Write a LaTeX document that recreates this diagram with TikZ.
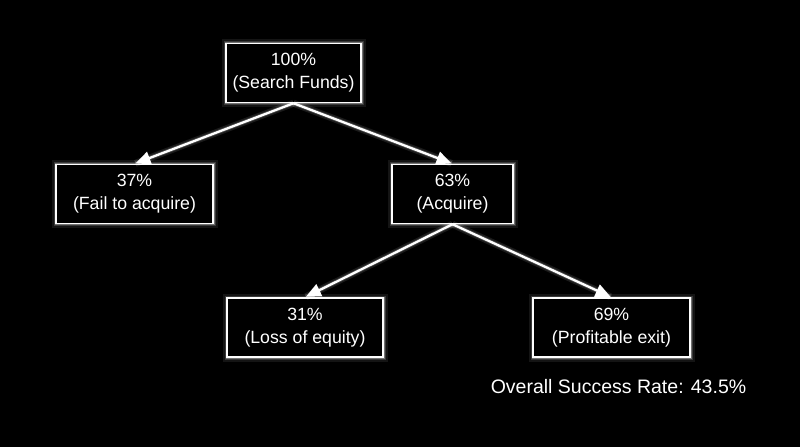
\documentclass[tikz,border=0pt]{standalone}
\usepackage{fontspec}
\setmainfont{Liberation Sans}
\usetikzlibrary{arrows.meta,positioning}
\tikzset{
  >={Triangle[length=15pt,width=13pt]},
  glow/.style={preaction={draw=white,line width=9pt,opacity=0.08},
               preaction={draw=white,line width=5pt,opacity=0.16},
               preaction={draw=white,line width=3pt,opacity=0.3}},
  stagebox/.style={rectangle, draw=white, line width=1.5pt, fill=black, glow,
                   text=white, align=center, inner sep=0pt, minimum height=59pt,
                   font=\fontsize{17.7}{23}\selectfont},
  branch/.style={draw=white, line width=2.3pt, ->, shorten >=1pt,
                 preaction={draw=white,line width=7pt,opacity=0.1,-},
                 preaction={draw=white,line width=4pt,opacity=0.18,-}}
}

\begin{document}
\begin{tikzpicture}[x=1pt,y=-1pt]

    % Draw black background, it fixes the page size too.
    \fill[black] (0,0) rectangle (800,447);

    % Draw the stage boxes.
    \node[stagebox, minimum width=135pt] (search) at (293.5,73) {100\%\\(Search Funds)};
    \node[stagebox, minimum width=157pt] (fail) at (134.5,194) {37\%\\(Fail to acquire)};
    \node[stagebox, minimum width=121pt] (acquire) at (452.5,194) {63\%\\(Acquire)};
    \node[stagebox, minimum width=156pt] (loss) at (305,327.5) {31\%\\(Loss of equity)};
    \node[stagebox, minimum width=157pt] (exit) at (611.5,327.5) {69\%\\(Profitable exit)};

    % Draw the branches between stages.
    \draw[branch] (search.south) -- (fail.north);
    \draw[branch] (search.south) -- (acquire.north);
    \draw[branch] (acquire.south) -- (loss.north);
    \draw[branch] (acquire.south) -- (exit.north);

    % Overall rate below the tree.
    \node[text=white, font=\fontsize{19.5}{23}\selectfont] (overall) at (618.5,387) {Overall Success Rate: 43.5\%};

\end{tikzpicture}
\end{document}
